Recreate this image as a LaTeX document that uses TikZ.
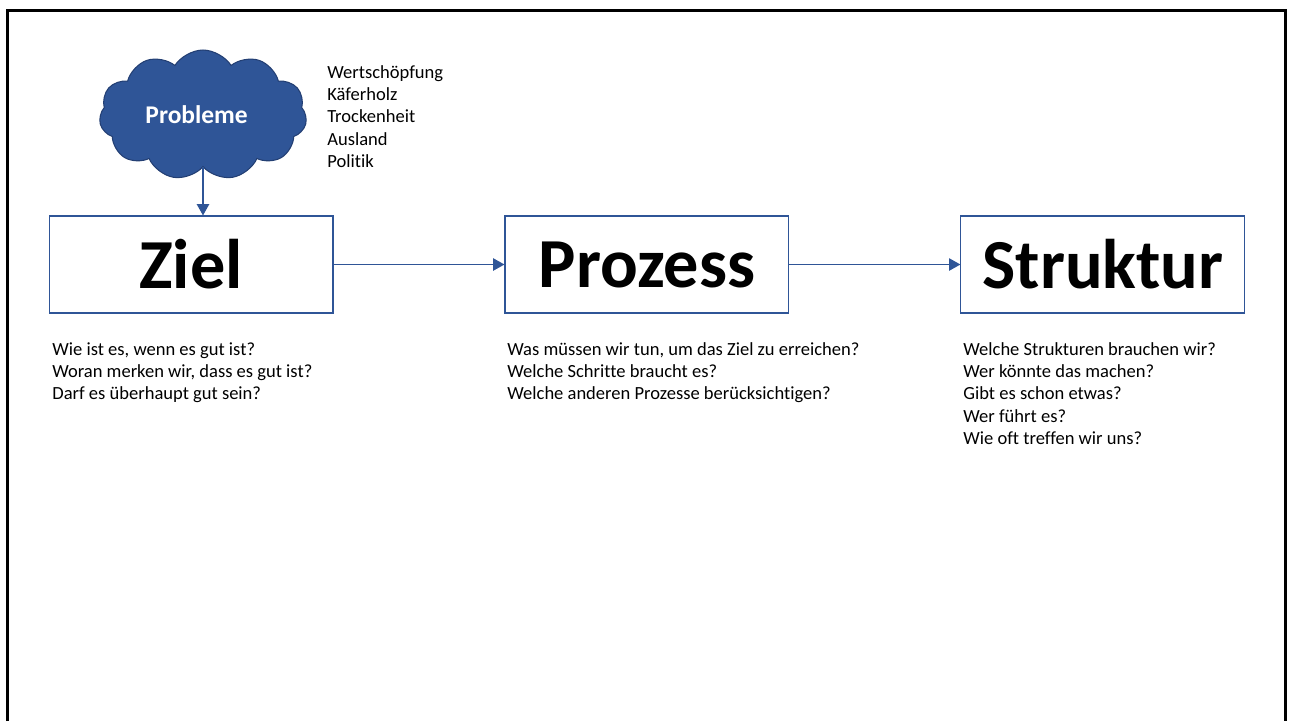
\documentclass[tikz,border=0pt]{standalone}
\usepackage{fontspec}
\setmainfont{Carlito}[Ligatures=NoCommon]
\usetikzlibrary{positioning,shapes.symbols,arrows.meta}

\definecolor{officeblue}{HTML}{2F5597}
\definecolor{clouddark}{HTML}{233F73}

\begin{document}
\begin{tikzpicture}[
	x=0.02cm, y=-0.02cm,
	stage/.style={rectangle, draw=officeblue, line width=0.6pt, minimum width=5.68cm, minimum height=1.94cm, font=\fontsize{40}{48}\selectfont\bfseries},
	problem/.style={cloud, cloud puffs=11, cloud puff arc=115, aspect=1.6, fill=officeblue, draw=clouddark, line width=0.6pt, minimum width=4.15cm, minimum height=2.6cm, text=white, font=\fontsize{14.5}{17}\selectfont\bfseries},
	note/.style={anchor=base west, inner sep=0pt, font=\fontsize{10.55}{12.7}\selectfont},
	flow/.style={-{Triangle[length=6.5pt,width=7pt]}, draw=officeblue, line width=1pt}
	]
	
	\useasboundingbox (0,0) rectangle (1292,721);
	
	% Rahmen (unten offen)
	\draw[line width=1.7pt] (7.5,721) -- (7.5,10.5) -- (1285.5,10.5) -- (1285.5,721);
	
	% Ziel - Prozess - Struktur
	\node[stage] (ziel) at (191,264.5) {Ziel};
	\node[stage, right=3.42cm of ziel] (prozess) {Prozess};
	\node[stage, right=3.42cm of prozess] (struktur) {Struktur};
	
	\draw[flow] (ziel) -- (prozess);
	\draw[flow] (prozess) -- (struktur);
	
	% Wolke mit den Problemen
	\node[problem] (probleme) at (203,115) {\kern-0.5em Probleme};
	\draw[flow] (probleme.south) -- (probleme.south |- ziel.north);
	
	\foreach \t [count=\i] in {Wertschöpfung, Käferholz, Trockenheit, Ausland, Politik}
		\node[note] (p\i) at (327,{78+22.4*(\i-1)}) {\t};
	
	% Fragen unter den Kästen
	\foreach \t [count=\i] in {{Wie ist es, wenn es gut ist?}, {Woran merken wir, dass es gut ist?}, {Darf es überhaupt gut sein?}}
		\node[note] (z\i) at (52,{355+22.4*(\i-1)}) {\t};
	
	\foreach \t [count=\i] in {{Was müssen wir tun, um das Ziel zu erreichen?}, {Welche Schritte braucht es?}, {Welche anderen Prozesse berücksichtigen?}}
		\node[note] (q\i) at (507,{355+22.4*(\i-1)}) {\t};
	
	\foreach \t [count=\i] in {{Welche Strukturen brauchen wir?}, {Wer könnte das machen?}, {Gibt es schon etwas?}, {Wer führt es?}, {Wie oft treffen wir uns?}}
		\node[note] (s\i) at (963,{355+22.4*(\i-1)}) {\t};
	
\end{tikzpicture}
\end{document}
